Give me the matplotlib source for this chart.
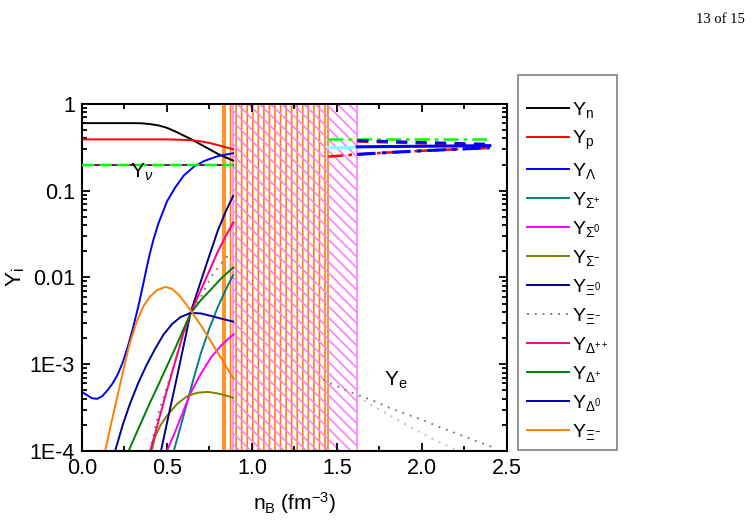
import matplotlib
matplotlib.use('Agg')
import matplotlib.pyplot as plt
from matplotlib.ticker import FixedLocator, LogLocator, NullFormatter, MultipleLocator

plt.rcParams['font.family'] = ['Liberation Sans', 'DejaVu Sans']
plt.rcParams['mathtext.fontset'] = 'custom'
plt.rcParams['mathtext.rm'] = 'Liberation Sans'
plt.rcParams['mathtext.it'] = 'Liberation Sans:italic'
plt.rcParams['hatch.linewidth'] = 1.2

# ---- data ----
# low density branch
x_n = [0, 0.1, 0.2, 0.3, 0.35, 0.4, 0.45, 0.5, 0.55, 0.6, 0.65, 0.7, 0.75, 0.8, 0.85, 0.89]
y_n = [0.60, 0.60, 0.60, 0.60, 0.598, 0.585, 0.565, 0.53, 0.48, 0.43, 0.385, 0.34, 0.30, 0.265, 0.24, 0.222]
x_p = [0, 0.3, 0.5, 0.6, 0.65, 0.7, 0.75, 0.8, 0.85, 0.89]
y_p = [0.39, 0.39, 0.39, 0.385, 0.38, 0.37, 0.355, 0.335, 0.315, 0.30]
x_nu = [0, 0.89]
y_nu = [0.2, 0.2]
x_lam = [0, 0.03, 0.06, 0.09, 0.12, 0.15, 0.18, 0.21, 0.24, 0.27, 0.30, 0.33, 0.36, 0.38, 0.40, 0.42, 0.45, 0.50, 0.55, 0.60, 0.66, 0.72, 0.80, 0.89]
y_lam = [4.8e-4, 4.4e-4, 4.05e-4, 4.0e-4, 4.3e-4, 5.0e-4, 6.0e-4, 7.6e-4, 1.05e-3, 1.6e-3, 2.6e-3, 4.5e-3, 8.3e-3, 0.0128, 0.019, 0.027, 0.042, 0.075, 0.11, 0.15, 0.19, 0.22, 0.25, 0.27]
x_sp = [0.54, 0.58, 0.62, 0.66, 0.70, 0.75, 0.80, 0.85, 0.89]
y_sp = [1e-4, 1.9e-4, 3.7e-4, 7.2e-4, 1.35e-3, 2.6e-3, 4.6e-3, 7.5e-3, 0.0107]
x_s0 = [0.50, 0.55, 0.60, 0.64, 0.70, 0.76, 0.82, 0.89]
y_s0 = [1e-4, 1.7e-4, 3.0e-4, 4.7e-4, 7.8e-4, 1.2e-3, 1.65e-3, 2.2e-3]
x_sm = [0.41, 0.43, 0.46, 0.50, 0.56, 0.62, 0.68, 0.74, 0.80, 0.85, 0.89]
y_sm = [1e-4, 1.45e-4, 1.95e-4, 2.55e-4, 3.5e-4, 4.3e-4, 4.7e-4, 4.8e-4, 4.6e-4, 4.35e-4, 4.1e-4]
x_x0 = [0.465, 0.50, 0.55, 0.60, 0.64, 0.70, 0.75, 0.80, 0.85, 0.89]
y_x0 = [1e-4, 2.1e-4, 5.9e-4, 1.7e-3, 4.0e-3, 9.1e-3, 0.018, 0.035, 0.06, 0.087]
x_xm = [0.40, 0.45, 0.50, 0.55, 0.59, 0.64, 0.70, 0.76, 0.82, 0.88]
y_xm = [1.0e-4, 2.7e-4, 5.5e-4, 1.1e-3, 2.0e-3, 3.8e-3, 6.0e-3, 0.0102, 0.0145, 0.02]
x_dpp = [0.402, 0.45, 0.50, 0.55, 0.60, 0.64, 0.70, 0.75, 0.80, 0.85, 0.89]
y_dpp = [1e-4, 2.2e-4, 5e-4, 1.1e-3, 2.4e-3, 3.9e-3, 7.2e-3, 0.012, 0.02, 0.031, 0.043]
x_dp = [0.274, 0.32, 0.36, 0.40, 0.45, 0.50, 0.55, 0.60, 0.64, 0.70, 0.76, 0.82, 0.89]
y_dp = [1e-4, 1.6e-4, 2.4e-4, 3.6e-4, 5.8e-4, 9.5e-4, 1.55e-3, 2.6e-3, 3.9e-3, 5.5e-3, 7.3e-3, 9.8e-3, 0.013]
x_d0 = [0.195, 0.24, 0.28, 0.33, 0.38, 0.43, 0.48, 0.53, 0.58, 0.64, 0.70, 0.76, 0.82, 0.89]
y_d0 = [1e-4, 2.0e-4, 3.4e-4, 6.0e-4, 9.8e-4, 1.5e-3, 2.2e-3, 2.9e-3, 3.5e-3, 3.9e-3, 3.85e-3, 3.6e-3, 3.35e-3, 3.1e-3]
x_dm = [0.136, 0.17, 0.2, 0.24, 0.28, 0.32, 0.36, 0.40, 0.44, 0.49, 0.53, 0.57, 0.61, 0.65, 0.70, 0.75, 0.80, 0.85, 0.89]
y_dm = [1e-4, 2.0e-4, 3.6e-4, 8.0e-4, 1.7e-3, 3.0e-3, 4.6e-3, 6.0e-3, 7.1e-3, 7.8e-3, 7.4e-3, 6.3e-3, 5.0e-3, 3.9e-3, 2.8e-3, 1.95e-3, 1.35e-3, 9.3e-4, 6.9e-4]

# high density branch
x_hi_nu = [1.45, 2.4]
y_hi_nu = [0.39, 0.39]
x_hi_cy = [1.45, 1.62]
y_hi_cy = [0.32, 0.32]
x_hi_rdd = [1.45, 1.62, 1.8, 2.0, 2.2, 2.4]
y_hi_rdd = [0.247, 0.262, 0.275, 0.288, 0.30, 0.31]
x_hi_bdd = [1.62, 1.8, 2.0, 2.2, 2.4]
y_hi_bdd = [0.262, 0.275, 0.288, 0.30, 0.312]
x_hi_bs = [1.62, 2.0, 2.4]
y_hi_bs = [0.32, 0.325, 0.33]
x_hi_rd = [1.62, 2.0, 2.4]
y_hi_rd = [0.37, 0.352, 0.335]
x_hi_bd = [1.62, 2.0, 2.4]
y_hi_bd = [0.378, 0.36, 0.343]
x_e1 = [1.42, 1.5, 1.6, 1.7, 1.8, 1.9, 2.0, 2.1, 2.2, 2.3, 2.42]
y_e1 = [6.6e-4, 5.6e-4, 4.6e-4, 3.9e-4, 3.2e-4, 2.7e-4, 2.3e-4, 1.9e-4, 1.6e-4, 1.35e-4, 1.1e-4]
x_e2 = [1.62, 1.7, 1.8, 1.9, 2.0, 2.1, 2.22]
y_e2 = [4.3e-4, 3.4e-4, 2.65e-4, 2.05e-4, 1.6e-4, 1.27e-4, 1.0e-4]

# mixed phase bands
orange_band = (0.827, 1.448)
pink_band = (0.89, 1.62)

labels = [r'Y$_{\mathregular{n}}$', r'Y$_{\mathregular{p}}$', r'Y$_{\Lambda}$', r'Y$_{\Sigma^{+}}$',
          r'Y$_{\Sigma^{0}}$', r'Y$_{\Sigma^{-}}$', r'Y$_{\Xi^{0}}$', r'Y$_{\Xi^{-}}$',
          r'Y$_{\Delta^{++}}$', r'Y$_{\Delta^{+}}$', r'Y$_{\Delta^{0}}$', r'Y$_{\Xi^{-}}$']

fig = plt.figure(figsize=(7.52, 5.30), dpi=100)
ax = fig.add_axes([0.109, 0.149, 0.565, 0.655])

ax.axvspan(orange_band[0], orange_band[1], facecolor='none', edgecolor='#ff8000', hatch='|||', lw=1.2, zorder=1)
ax.axvspan(pink_band[0], pink_band[1], facecolor='none', edgecolor='#ff80ff', hatch='\\\\\\', lw=1.2, zorder=1)

lw = 1.4
handles = []
handles += ax.plot(x_n, y_n, color='black', lw=lw)
handles += ax.plot(x_p, y_p, color='red', lw=lw)
handles += ax.plot(x_lam, y_lam, color='blue', lw=lw)
handles += ax.plot(x_sp, y_sp, color='#008080', lw=lw)
handles += ax.plot(x_s0, y_s0, color='#ff00ff', lw=lw)
handles += ax.plot(x_sm, y_sm, color='#808000', lw=lw)
handles += ax.plot(x_x0, y_x0, color='#000080', lw=lw)
handles += ax.plot(x_xm, y_xm, color='gray', lw=lw, ls=(0, (1, 3)))
handles += ax.plot(x_dpp, y_dpp, color='#ff0080', lw=lw)
handles += ax.plot(x_dp, y_dp, color='#008000', lw=lw)
handles += ax.plot(x_d0, y_d0, color='#0000a0', lw=lw)
handles += ax.plot(x_dm, y_dm, color='#ff8000', lw=lw)

ax.plot(x_nu, y_nu, color='#800080', lw=lw, zorder=2)
ax.plot(x_nu, y_nu, color='#00ff00', lw=lw + 0.4, ls=(0, (5, 2)), zorder=3)

ax.plot(x_hi_nu, y_hi_nu, color='#00ff00', lw=1.8, ls=(0, (6, 2, 1.5, 2)))
ax.plot(x_hi_cy, y_hi_cy, color='#80ffff', lw=2)
ax.plot(x_hi_rd, y_hi_rd, color='red', lw=2, ls=(0, (4, 3)))
ax.plot(x_hi_bd, y_hi_bd, color='blue', lw=2, ls=(0, (4, 3)))
ax.plot(x_hi_rdd, y_hi_rdd, color='red', lw=1.8, ls=(0, (6, 2, 1.5, 2)))
ax.plot(x_hi_bdd, y_hi_bdd, color='blue', lw=2.2, ls=(0, (6, 2, 1.5, 2)))
ax.plot(x_hi_bs, y_hi_bs, color='blue', lw=2.2)
ax.plot(x_e1, y_e1, color='#808080', lw=1.4, ls=(0, (1, 3)))
ax.plot(x_e2, y_e2, color='#c0c0c0', lw=1.4, ls=(0, (1, 3)))

ax.text(0.28, 0.14, r'Y$_{\nu}$', fontsize=15)
ax.text(1.78, 5.7e-4, r'Y$_{\mathregular{e}}$', fontsize=15)

ax.set_yscale('log')
ax.set_xlim(0, 2.5)
ax.set_ylim(1e-4, 1)
ax.xaxis.set_major_locator(MultipleLocator(0.5))
ax.xaxis.set_minor_locator(MultipleLocator(0.25))
ax.yaxis.set_major_locator(FixedLocator([1e-4, 1e-3, 1e-2, 1e-1, 1]))
ax.yaxis.set_minor_locator(LogLocator(base=10, subs=range(2, 10)))
ax.yaxis.set_minor_formatter(NullFormatter())
ax.set_yticklabels(['1E-4', '1E-3', '0.01', '0.1', '1'])
ax.set_xticks([0, 0.5, 1.0, 1.5, 2.0, 2.5])
ax.set_xticklabels(['0.0', '0.5', '1.0', '1.5', '2.0', '2.5'])
ax.tick_params(which='both', direction='in', top=True, right=True, labelsize=15.5, width=1.3)
ax.tick_params(which='major', length=6, pad=5)
ax.tick_params(which='minor', length=3.5)
for s in ax.spines.values():
    s.set_linewidth(1.5)

ax.set_xlabel(r'n$_{\mathregular{B}}$ (fm$^{\mathregular{-3}}$)', fontsize=15, labelpad=8)
ax.set_ylabel(r'Y$_{\mathregular{i}}$', fontsize=16, labelpad=2)

leg = fig.legend(handles, labels, loc='upper left', bbox_to_anchor=(0.689, 0.858),
                 fontsize=14, frameon=True, fancybox=False, edgecolor='#606060',
                 title=' ', title_fontsize=5,
                 handlelength=2.15, handletextpad=0.15, labelspacing=0.46, borderpad=0.45,
                 borderaxespad=0)
leg.get_frame().set_linewidth(1.2)

fig.text(0.99, 0.975, '13 of 15', family='Liberation Serif', fontsize=10.5, ha='right', va='top')

fig.savefig('out.png', dpi=100)
